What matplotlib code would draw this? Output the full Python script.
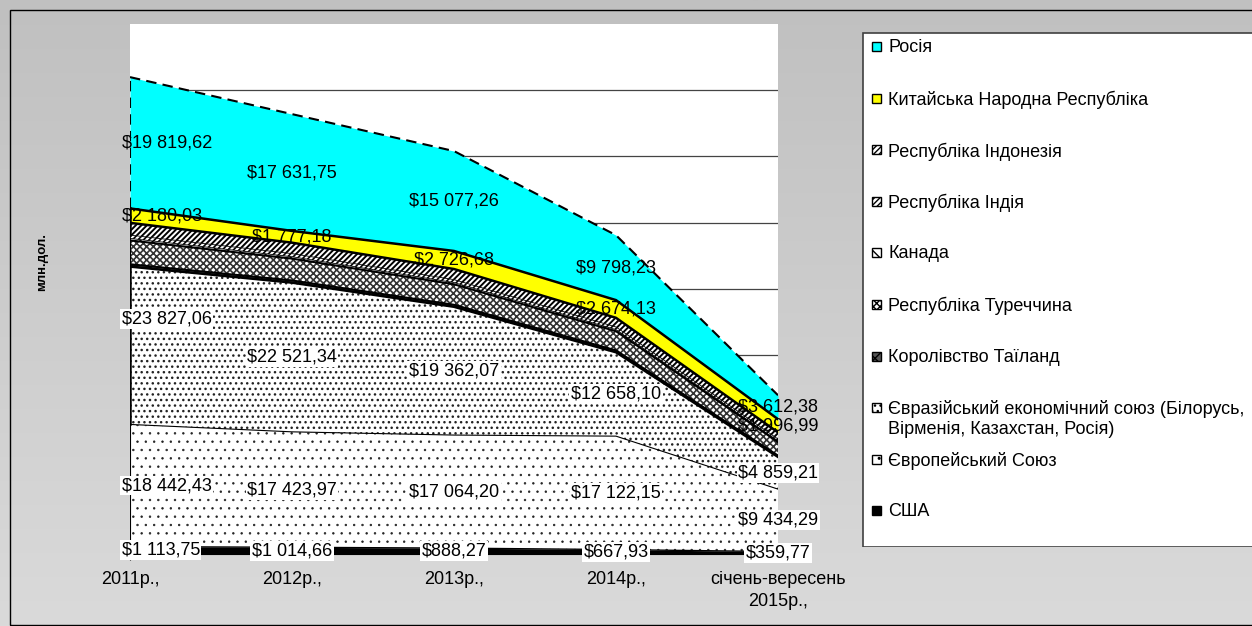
import numpy as np
import matplotlib.pyplot as plt
from matplotlib.patches import Rectangle

plt.rcParams['font.family'] = ['Liberation Sans', 'DejaVu Sans']

W, H = 1252, 626

categories = ['2011р.,', '2012р.,', '2013р.,', '2014р.,', 'січень-вересень\n2015р.,']

# values, mln USD (stack order bottom -> top)
usa = [1113.75, 1014.66, 888.27, 667.93, 359.77]
eu = [18442.43, 17423.97, 17064.20, 17122.15, 9434.29]
eaeu = [23827.06, 22521.34, 19362.07, 12658.10, 4859.21]
thailand = [350, 330, 300, 280, 200]
turkey = [3600, 3300, 3100, 2900, 2050]
canada = [300, 280, 260, 240, 170]
india = [500, 470, 440, 400, 280]
indonesia = [1850, 1650, 1600, 1380, 1000]
china = [2180.03, 1777.18, 2726.68, 2674.13, 1996.99]
russia = [19819.62, 17631.75, 15077.26, 9798.23, 3612.38]

# name, values, face, hatch, hatch colour, hatch lw, top line style, top line width, labels?, label bg?
series = [
    ('США', usa, 'black', None, 'black', 1.0, '-', 1.0, True, True),
    ('Європейський Союз', eu, 'white', '..', '#222222', 0.5, '-', 0.8, True, True),
    ('Євразійський економічний союз (Білорусь,\nВірменія, Казахстан, Росія)', eaeu,
     'white', '...', '#222222', 1.0, '-', 1.8, True, True),
    ('Королівство Таїланд', thailand, '#555555', 'xx', 'black', 1.0, '-', 1.5, False, False),
    ('Республіка Туреччина', turkey, 'white', 'xxxxx', '#333333', 1.2, '-', 1.5, False, False),
    ('Канада', canada, 'white', '\\\\\\', 'black', 1.2, '-', 0.6, False, False),
    ('Республіка Індія', india, 'white', '//////', 'black', 1.2, '-', 0.6, False, False),
    ('Республіка Індонезія', indonesia, 'white', '//////', 'black', 1.4, '-', 1.8, False, False),
    ('Китайська Народна Республіка', china, '#FFFF00', None, 'black', 1.0, '-', 1.8, True, False),
    ('Росія', russia, '#00FFFF', None, 'black', 1.0, (0, (5, 3)), 1.5, True, False),
]


def fmt(v):
    s = '{:,.2f}'.format(v)
    return '$' + s.replace(',', ' ').replace('.', ',')


fig = plt.figure(figsize=(W / 100, H / 100), dpi=100)

# gradient background + outer border
bg = fig.add_axes([0, 0, 1, 1], zorder=-10)
grad = np.linspace(192, 218, 256).reshape(-1, 1) / 255.0
bg.imshow(np.dstack([grad, grad, grad]), aspect='auto', extent=[0, 1, 0, 1])
bg.add_patch(Rectangle((10 / W, 1 / H), 1.2, (H - 11) / H, fill=False,
                       edgecolor='black', lw=1.0, transform=bg.transAxes))
bg.set_xlim(0, 1)
bg.set_ylim(0, 1)
bg.axis('off')

ax = fig.add_axes([130 / W, (H - 554) / H, 648 / W, 530 / H])
ax.set_facecolor('white')
x = np.arange(len(categories))
ax.set_xlim(0, len(categories) - 1)
ax.set_ylim(0, 80000)
ax.set_yticks(np.arange(10000, 70001, 10000))
ax.yaxis.grid(True, color='#444444', lw=0.9)
ax.set_axisbelow(True)
ax.tick_params(axis='y', left=False, labelleft=False)
for s in ['top', 'right', 'left']:
    ax.spines[s].set_visible(False)
ax.spines['bottom'].set_color('black')
ax.set_xticks(x)
ax.set_xticklabels(categories, fontsize=13, linespacing=1.4)
ax.tick_params(axis='x', length=4, pad=8)

bottom = np.zeros(len(categories))
for i, (name, vals, face, hatch, hcol, hlw, ls, lw, lab, labbg) in enumerate(series):
    vals = np.array(vals, dtype=float)
    top = bottom + vals
    with plt.rc_context({'hatch.linewidth': hlw}):
        coll = ax.fill_between(x, bottom, top, facecolor=face, hatch=hatch,
                               edgecolor=hcol, linewidth=0, zorder=2 + i * 0.01)
        if hasattr(coll, 'set_hatch_linewidth'):
            coll.set_hatch_linewidth(hlw)
    ax.plot(x, top, color='black', ls=ls, lw=lw, zorder=3)
    ax.plot([x[0], x[0]], [bottom[0], top[0]], color='black', ls=ls, lw=lw, zorder=3)
    if lab:
        for j in range(len(x)):
            ymid = bottom[j] + vals[j] / 2
            if name.startswith('Євразійський') and j == 0:
                ymid += 4000
            kw = dict(fontsize=13, va='center', zorder=5)
            if labbg:
                kw['bbox'] = dict(facecolor='white', edgecolor='none', pad=1.0)
            if j == 0:
                ax.annotate(fmt(vals[j]), (x[j], ymid), xytext=(-6, 0),
                            textcoords='offset points', ha='left', **kw)
            else:
                ax.annotate(fmt(vals[j]), (x[j], ymid), ha='center',
                            annotation_clip=False, **kw)
    bottom = top

fig.text(42 / W, 1 - 262 / H, 'млн.дол.', rotation=90, fontsize=9.5,
         fontweight='bold', ha='center', va='center')

# legend box (cut by the right edge like the original)
lg = fig.add_axes([862 / W, (H - 547) / H, (W - 862) / W, 515 / H])
lg.set_xlim(0, W - 862)
lg.set_ylim(515, 0)
lg.axis('off')
lg.add_patch(Rectangle((0.5, 0.5), W - 862 + 20, 514, facecolor='white',
                       edgecolor='#404040', lw=1.2, clip_on=True))
for k, (name, vals, face, hatch, hcol, hlw, ls, lw, lab, labbg) in enumerate(series[::-1]):
    yc = 14 + k * 51.6
    with plt.rc_context({'hatch.linewidth': 1.0}):
        lg.add_patch(Rectangle((10, yc - 4), 9, 9, facecolor=face, hatch=hatch,
                               edgecolor='black', lw=1.0))
    lg.text(26, yc - 7, name, fontsize=13, va='top', ha='left', linespacing=1.25)

fig.savefig('out.png', dpi=100)
